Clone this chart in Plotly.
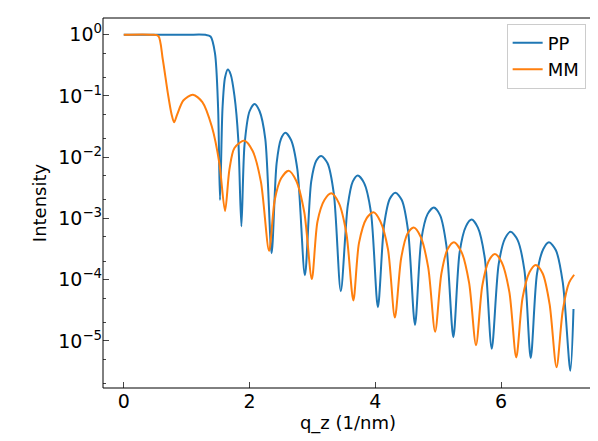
import plotly.graph_objects as go

pp_q = [0,1.0,1.3,1.38,1.45,1.5,1.53,1.57,1.61,1.655,1.70,1.76,1.82,1.87,1.92,2.0,2.08,2.16,2.25,2.35,2.43,2.50,2.57,2.66,2.76,2.88,2.98,3.06,3.14,3.24,3.34,3.45,3.56,3.64,3.72,3.82,3.93,4.04,4.14,4.23,4.32,4.42,4.52,4.63,4.73,4.83,4.93,5.03,5.13,5.24,5.34,5.44,5.53,5.63,5.74,5.85,5.96,6.06,6.15,6.26,6.37,6.47,6.57,6.67,6.76,6.87,6.98,7.10,7.15]
pp_log = [0,0,-0.002,-0.03,-0.3,-1.2,-2.70,-1.2,-0.7,-0.57,-0.65,-1.0,-1.7,-3.13,-1.8,-1.25,-1.13,-1.25,-1.7,-3.57,-2.1,-1.7,-1.60,-1.72,-2.2,-3.93,-2.4,-2.06,-1.98,-2.1,-2.6,-4.19,-2.8,-2.4,-2.30,-2.42,-2.9,-4.45,-3.1,-2.68,-2.58,-2.7,-3.2,-4.74,-3.35,-2.93,-2.82,-2.95,-3.45,-4.94,-3.55,-3.13,-3.02,-3.15,-3.65,-5.13,-3.75,-3.33,-3.22,-3.35,-3.85,-5.28,-3.9,-3.5,-3.39,-3.52,-4.05,-5.49,-4.48]
mm_q = [0,0.45,0.55,0.62,0.70,0.76,0.80,0.85,0.95,1.10,1.25,1.40,1.52,1.61,1.68,1.76,1.92,2.05,2.18,2.31,2.40,2.50,2.62,2.74,2.87,2.99,3.08,3.19,3.30,3.42,3.54,3.65,3.74,3.86,3.97,4.08,4.20,4.31,4.41,4.51,4.61,4.72,4.84,4.95,5.05,5.15,5.25,5.37,5.49,5.60,5.70,5.80,5.90,6.01,6.13,6.24,6.34,6.45,6.55,6.66,6.77,6.88,6.98,7.08,7.16]
mm_log = [0,0,-0.02,-0.4,-0.95,-1.3,-1.43,-1.3,-1.07,-0.98,-1.1,-1.5,-2.1,-2.88,-2.2,-1.85,-1.73,-1.9,-2.4,-3.53,-2.7,-2.35,-2.22,-2.38,-2.9,-3.99,-3.05,-2.7,-2.59,-2.75,-3.25,-4.34,-3.4,-3.0,-2.90,-3.05,-3.5,-4.62,-3.65,-3.25,-3.15,-3.3,-3.8,-4.85,-3.9,-3.5,-3.39,-3.55,-4.05,-5.07,-4.1,-3.7,-3.58,-3.72,-4.2,-5.27,-4.3,-3.88,-3.76,-3.9,-4.4,-5.43,-4.5,-4.05,-3.92]
y_tick_exp = [0,-1,-2,-3,-4,-5]

fig = go.Figure()
fig.add_trace(go.Scatter(x=pp_q, y=[10**v for v in pp_log], name="PP", mode="lines",
                         line=dict(color="#1f77b4", width=2, shape="spline", smoothing=0.8)))
fig.add_trace(go.Scatter(x=mm_q, y=[10**v for v in mm_log], name="MM", mode="lines",
                         line=dict(color="#ff7f0e", width=2, shape="spline", smoothing=0.8)))
fig.add_shape(type="rect", xref="paper", yref="paper", x0=0, y0=0, x1=1, y1=1,
              line=dict(color="black", width=1))
fig.update_layout(
    width=598, height=441, margin=dict(l=95, r=13, t=10, b=61, autoexpand=False),
    plot_bgcolor="white", paper_bgcolor="white",
    font=dict(family="DejaVu Sans", size=19, color="black"),
    legend=dict(x=0.985, y=0.985, xanchor="right", yanchor="top", bordercolor="#cccccc",
                borderwidth=1, font=dict(size=18)),
)
fig.update_xaxes(range=[-0.33, 7.46], tickvals=[0,2,4,6], ticks="inside", ticklen=6,
                 showline=False, showgrid=False, zeroline=False, automargin=False,
                 title=dict(text="q_z (1/nm)", font=dict(size=18), standoff=4))
fig.update_yaxes(type="log", range=[-5.77, 0.273], tickvals=[10**e for e in y_tick_exp],
                 ticktext=["10<sup>%s</sup>" % (str(e).replace("-", "−")) for e in y_tick_exp],
                 ticks="inside", ticklen=6, showline=False, automargin=False,
                 showgrid=False, zeroline=False,
                 minor=dict(ticks="inside", ticklen=3, showgrid=False),
                 title=dict(text="Intensity", font=dict(size=18), standoff=6))
fig.write_html("out.html")
